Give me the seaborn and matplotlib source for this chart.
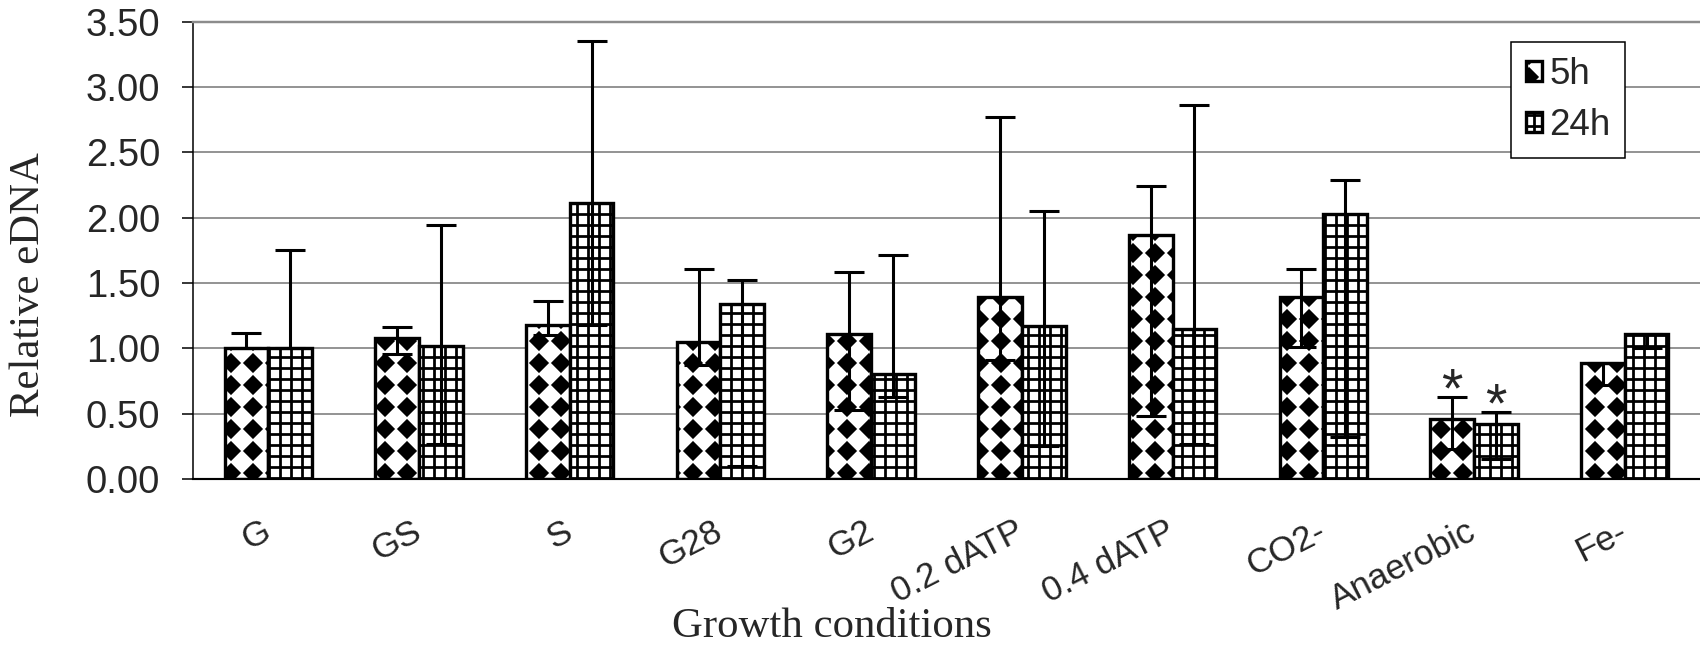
import warnings
import numpy as np
import pandas as pd
import matplotlib
matplotlib.use('Agg')
import matplotlib.pyplot as plt
import matplotlib.hatch as mhatch
from matplotlib.path import Path
import seaborn as sns

warnings.filterwarnings('ignore')

# data
conditions = ['G', 'GS', 'S', 'G28', 'G2', '0.2 dATP', '0.4 dATP', 'CO2-', 'Anaerobic', 'Fe-']
times = ['5h', '24h']
val_5h = [1.00, 1.08, 1.18, 1.05, 1.11, 1.39, 1.87, 1.39, 0.46, 0.89]
val_24h = [1.00, 1.02, 2.11, 1.34, 0.80, 1.17, 1.15, 2.03, 0.42, 1.11]
# error bar ends (upper / lower)
hi_5h = [1.12, 1.16, 1.36, 1.61, 1.58, 2.77, 2.24, 1.61, 0.63, 0.89]
lo_5h = [1.00, 0.96, 1.10, 0.87, 0.53, 0.91, 0.48, 1.01, 0.23, 0.72]
hi_24h = [1.75, 1.94, 3.35, 1.52, 1.71, 2.05, 2.86, 2.29, 0.51, 1.11]
lo_24h = [1.00, 0.27, 1.18, 0.10, 0.63, 0.25, 0.27, 0.32, 0.15, 1.00]
significant = ['Anaerobic']


# custom hatches: 'd' = black diamonds on a square lattice, 'g' = square grid
class BoxPatterns(mhatch.HatchPatternBase):
    def __init__(self, hatch, density):
        self.nd = hatch.count('d') * 5
        self.ng = hatch.count('g') * 10
        self.num_vertices = 5 * self.nd * self.nd + 4 * self.ng

    def set_vertices_and_codes(self, vertices, codes):
        cur = 0
        if self.nd:
            diamond = np.array([[0, 1], [1, 0], [0, -1], [-1, 0], [0, 1]]) * 0.37 / self.nd
            for i in range(self.nd):
                for j in range(self.nd):
                    c = np.array([(i + 0.5) / self.nd, (j + 0.5) / self.nd])
                    vertices[cur:cur + 5] = diamond + c
                    codes[cur:cur + 5] = [Path.MOVETO, Path.LINETO, Path.LINETO,
                                          Path.LINETO, Path.CLOSEPOLY]
                    cur += 5
        if self.ng:
            for k in range(self.ng):
                p = (k + 0.5) / self.ng
                vertices[cur:cur + 4] = [[0, p], [1, p], [p, 0], [p, 1]]
                codes[cur:cur + 4] = [Path.MOVETO, Path.LINETO, Path.MOVETO, Path.LINETO]
                cur += 4


mhatch._hatch_types.append(BoxPatterns)

sns.set_style('white')
plt.rcParams['font.family'] = ['Liberation Sans', 'DejaVu Sans']
plt.rcParams['hatch.linewidth'] = 1.8
plt.rcParams['hatch.color'] = 'black'

df = pd.DataFrame({
    'condition': conditions * 2,
    'time': [times[0]] * len(conditions) + [times[1]] * len(conditions),
    'value': val_5h + val_24h,
})

DPI = 110
fig, ax = plt.subplots(figsize=(1700 / DPI, 646 / DPI), dpi=DPI)
fig.subplots_adjust(left=193 / 1700, right=1.0, bottom=1 - 479 / 646, top=1 - 21.5 / 646)

sns.barplot(data=df, x='condition', y='value', hue='time', order=conditions,
            hue_order=times, palette=['white', 'white'], edgecolor='black',
            linewidth=2.2, width=0.58, errorbar=None, legend=False, ax=ax)

hatches = ['d', 'g']
his = [hi_5h, hi_24h]
los = [lo_5h, lo_24h]
vals = [val_5h, val_24h]
for cont, h, hi, lo, v in zip(ax.containers, hatches, his, los, vals):
    xs = []
    for bar in cont:
        bar.set_hatch(h)
        bar.set_zorder(2)
        xs.append(bar.get_x() + bar.get_width() / 2)
    v = np.array(v)
    yerr = [v - np.array(lo), np.array(hi) - v]
    ax.errorbar(xs, v, yerr=yerr, fmt='none', ecolor='black', elinewidth=2.0,
                capsize=10, capthick=2.0, zorder=3)
    for x, c, top in zip(xs, conditions, hi):
        if c in significant:
            ax.text(x, top + 0.035, '*', ha='center', va='center', fontsize=36, zorder=4)

ax.set_ylim(0, 3.5)
ax.set_xlim(-0.5, len(conditions) - 0.5)
ax.set_yticks(np.arange(0, 3.51, 0.5))
ax.set_yticklabels([f'{t:.2f}' for t in np.arange(0, 3.51, 0.5)])
ax.yaxis.grid(True, color='#8c8c8c', linewidth=1.2)
ax.set_axisbelow(True)

ax.set_xticks(range(len(conditions)))
ax.set_xticklabels(conditions, rotation=27, ha='right', va='center', rotation_mode='anchor')
ax.set_xticks(np.arange(-0.5, len(conditions), 1), minor=True)
ax.tick_params(axis='x', which='major', length=0, pad=33, labelsize=23)
ax.tick_params(axis='x', which='minor', length=6.5, width=1, direction='out', color='black')
ax.tick_params(axis='y', length=7.5, width=1, direction='out', pad=14, labelsize=25,
               color='black', left=True)

ax.spines['right'].set_visible(False)
ax.spines['top'].set_color('#8c8c8c')
ax.spines['top'].set_linewidth(1.6)
ax.spines['left'].set_color('black')
ax.spines['left'].set_linewidth(1.0)
ax.spines['bottom'].set_color('black')
ax.spines['bottom'].set_linewidth(1.4)

ax.set_ylabel('Relative eDNA', fontsize=28, family=['Liberation Serif', 'DejaVu Serif'], va='center')
ax.yaxis.set_label_coords(-0.109, 0.424)
ax.set_xlabel('Growth conditions', fontsize=28, family=['Liberation Serif', 'DejaVu Serif'], va='center')
ax.xaxis.set_label_coords(0.424, -0.323)

leg = ax.legend(handles=ax.containers[:2], labels=times, loc='upper left',
                bbox_to_anchor=(0.8746, 0.955), borderaxespad=0, fontsize=24,
                handlelength=0.45, handleheight=0.45, handletextpad=0.2,
                labelspacing=0.45, borderpad=0.4, fancybox=False, framealpha=1)
leg.get_frame().set_edgecolor('black')
leg.get_frame().set_linewidth(1.0)

fig.savefig('out.png', dpi=DPI)
